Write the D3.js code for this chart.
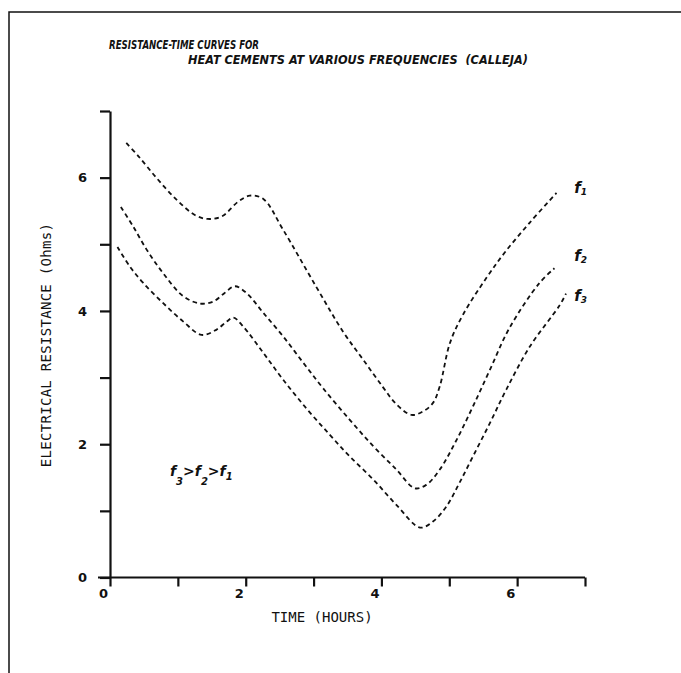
<!DOCTYPE html>
<html>
<head>
<meta charset="utf-8">
<script src="https://cdn.jsdelivr.net/npm/d3@7"></script>
<style>
  html, body { margin: 0; padding: 0; background: #fff; }
  svg { display: block; }
</style>
</head>
<body>
<svg id="chart" width="681" height="673"></svg>
<script>
// ---- data ----
const titleLines = ["RESISTANCE-TIME CURVES FOR", "HEAT CEMENTS AT VARIOUS FREQUENCIES  (CALLEJA)"];
const xLabel = "TIME (HOURS)";
const yLabel = "ELECTRICAL RESISTANCE (Ohms)";
const xTickValues = [0, 1, 2, 3, 4, 5, 6, 7];
const xTickLabels = ["0", "", "2", "", "4", "", "6", ""];
const yTickValues = [0, 1, 2, 3, 4, 5, 6, 7];
const yTickLabels = ["0", "", "2", "", "4", "", "6", ""];
const seriesNames = ["f1", "f2", "f3"];

const f1Time = [0.24, 0.42, 0.69, 0.98, 1.25, 1.44, 1.65, 1.89, 2.06, 2.26, 2.55, 3.04, 3.44, 3.73, 4.02, 4.22, 4.44, 4.61, 4.76, 4.86, 5.01, 5.20, 5.55, 5.82, 6.19, 6.58];
const f1Res  = [6.52, 6.32, 5.99, 5.67, 5.44, 5.38, 5.42, 5.64, 5.73, 5.68, 5.22, 4.36, 3.68, 3.27, 2.86, 2.60, 2.44, 2.49, 2.62, 2.87, 3.52, 3.94, 4.50, 4.88, 5.33, 5.77];

const f2Time = [0.16, 0.34, 0.54, 0.78, 1.08, 1.33, 1.52, 1.69, 1.84, 2.01, 2.26, 2.55, 2.85, 3.14, 3.53, 3.88, 4.22, 4.49, 4.66, 4.86, 5.11, 5.35, 5.60, 5.89, 6.33, 6.55];
const f2Res  = [5.56, 5.27, 4.92, 4.57, 4.22, 4.11, 4.14, 4.27, 4.37, 4.27, 3.97, 3.62, 3.22, 2.84, 2.37, 1.97, 1.62, 1.34, 1.39, 1.62, 2.07, 2.57, 3.12, 3.75, 4.42, 4.64];

const f3Time = [0.11, 0.29, 0.49, 0.78, 1.08, 1.35, 1.57, 1.72, 1.82, 1.96, 2.26, 2.55, 2.90, 3.24, 3.53, 3.88, 4.22, 4.57, 4.76, 4.96, 5.15, 5.35, 5.60, 5.84, 6.19, 6.63, 6.72];
const f3Res  = [4.96, 4.67, 4.42, 4.12, 3.84, 3.64, 3.72, 3.84, 3.90, 3.77, 3.37, 2.97, 2.53, 2.14, 1.82, 1.47, 1.09, 0.75, 0.84, 1.07, 1.42, 1.82, 2.32, 2.82, 3.47, 4.09, 4.26];

// ---- drawing ----
const svg = d3.select("#chart");
const x = d3.scaleLinear().domain([0, 7]).range([110, 585]);
const y = d3.scaleLinear().domain([0, 7]).range([577.5, 111]);

const ink = "#111";
const tfont = "'DejaVu Sans', sans-serif";
const mono = "'DejaVu Sans Mono', monospace";

// page frame (top and left border of the scanned sheet)
svg.append("path")
  .attr("d", d3.line()([[9, 673], [9, 12], [681, 12]]))
  .attr("fill", "none").attr("stroke", ink).attr("stroke-width", 1.5);

// title
svg.append("text")
  .attr("x", 109).attr("y", 49)
  .attr("font-family", tfont).attr("font-size", 12)
  .attr("font-style", "italic").attr("font-weight", "bold")
  .attr("textLength", 150).attr("lengthAdjust", "spacingAndGlyphs")
  .attr("fill", ink).text(titleLines[0]);
svg.append("text")
  .attr("x", 188).attr("y", 64)
  .attr("font-family", tfont).attr("font-size", 12)
  .attr("font-style", "italic").attr("font-weight", "bold")
  .attr("textLength", 340).attr("lengthAdjust", "spacingAndGlyphs")
  .attr("xml:space", "preserve")
  .attr("fill", ink).text(titleLines[1]);

// x axis
const xAxis = d3.axisBottom(x).tickValues(xTickValues)
  .tickFormat((d, i) => xTickLabels[i]).tickSizeInner(9).tickSizeOuter(0);
const gx = svg.append("g").attr("transform", `translate(0,${y(0)})`).call(xAxis);
gx.select(".domain").attr("d", `M${x(0) - 12},0H${x(7)}`);
gx.selectAll("path, line").attr("stroke", ink).attr("stroke-width", 2.2);
gx.selectAll("text").attr("font-family", tfont).attr("font-weight", "bold")
  .attr("font-size", 13).attr("fill", ink).attr("dx", -7).attr("dy", 8);

// y axis
const yAxis = d3.axisLeft(y).tickValues(yTickValues)
  .tickFormat((d, i) => yTickLabels[i]).tickSizeInner(10).tickSizeOuter(0);
const gy = svg.append("g").attr("transform", `translate(${x(0)},0)`).call(yAxis);
gy.selectAll("path, line").attr("stroke", ink).attr("stroke-width", 2.2);
gy.selectAll("text").attr("font-family", tfont).attr("font-weight", "bold")
  .attr("font-size", 13).attr("fill", ink).attr("dx", -10);

// axis titles
svg.append("text")
  .attr("x", 322).attr("y", 622).attr("text-anchor", "middle")
  .attr("font-family", mono).attr("font-size", 14)
  .attr("fill", ink).text(xLabel);
svg.append("text")
  .attr("transform", "translate(51,345) rotate(-90)").attr("text-anchor", "middle")
  .attr("font-family", mono).attr("font-size", 14)
  .attr("letter-spacing", 0.3)
  .attr("fill", ink).text(yLabel);

// curves
const series = [
  { name: seriesNames[0], t: f1Time, r: f1Res, lab: [6.84, 5.85] },
  { name: seriesNames[1], t: f2Time, r: f2Res, lab: [6.84, 4.82] },
  { name: seriesNames[2], t: f3Time, r: f3Res, lab: [6.84, 4.22] }
];
const line = d3.line().x(d => x(d[0])).y(d => y(d[1])).curve(d3.curveCatmullRom.alpha(0.5));
series.forEach(s => {
  const pts = s.t.map((t, i) => [t, s.r[i]]);
  svg.append("path").datum(pts)
    .attr("d", line)
    .attr("fill", "none").attr("stroke", ink)
    .attr("stroke-width", 1.8).attr("stroke-dasharray", "4.5,3.5");
  const lbl = svg.append("text")
    .attr("x", x(s.lab[0])).attr("y", y(s.lab[1]) + 5)
    .attr("font-family", tfont).attr("font-style", "italic").attr("font-weight", "bold")
    .attr("font-size", 15).attr("fill", ink);
  lbl.append("tspan").text("f");
  lbl.append("tspan").attr("font-size", 9).attr("dy", 2).text(s.name.slice(1));
});

// inequality annotation
const ann = svg.append("text")
  .attr("x", 170).attr("y", 476)
  .attr("font-family", tfont).attr("font-style", "italic").attr("font-weight", "bold")
  .attr("font-size", 14).attr("fill", ink);
ann.append("tspan").text("f");
ann.append("tspan").attr("font-size", 10).attr("dy", 9).text("3");
ann.append("tspan").attr("dy", -9).text(">f");
ann.append("tspan").attr("font-size", 10).attr("dy", 9).text("2");
ann.append("tspan").attr("dy", -9).text(">f");
ann.append("tspan").attr("font-size", 10).attr("dy", 4).text("1");
</script>
</body>
</html>
